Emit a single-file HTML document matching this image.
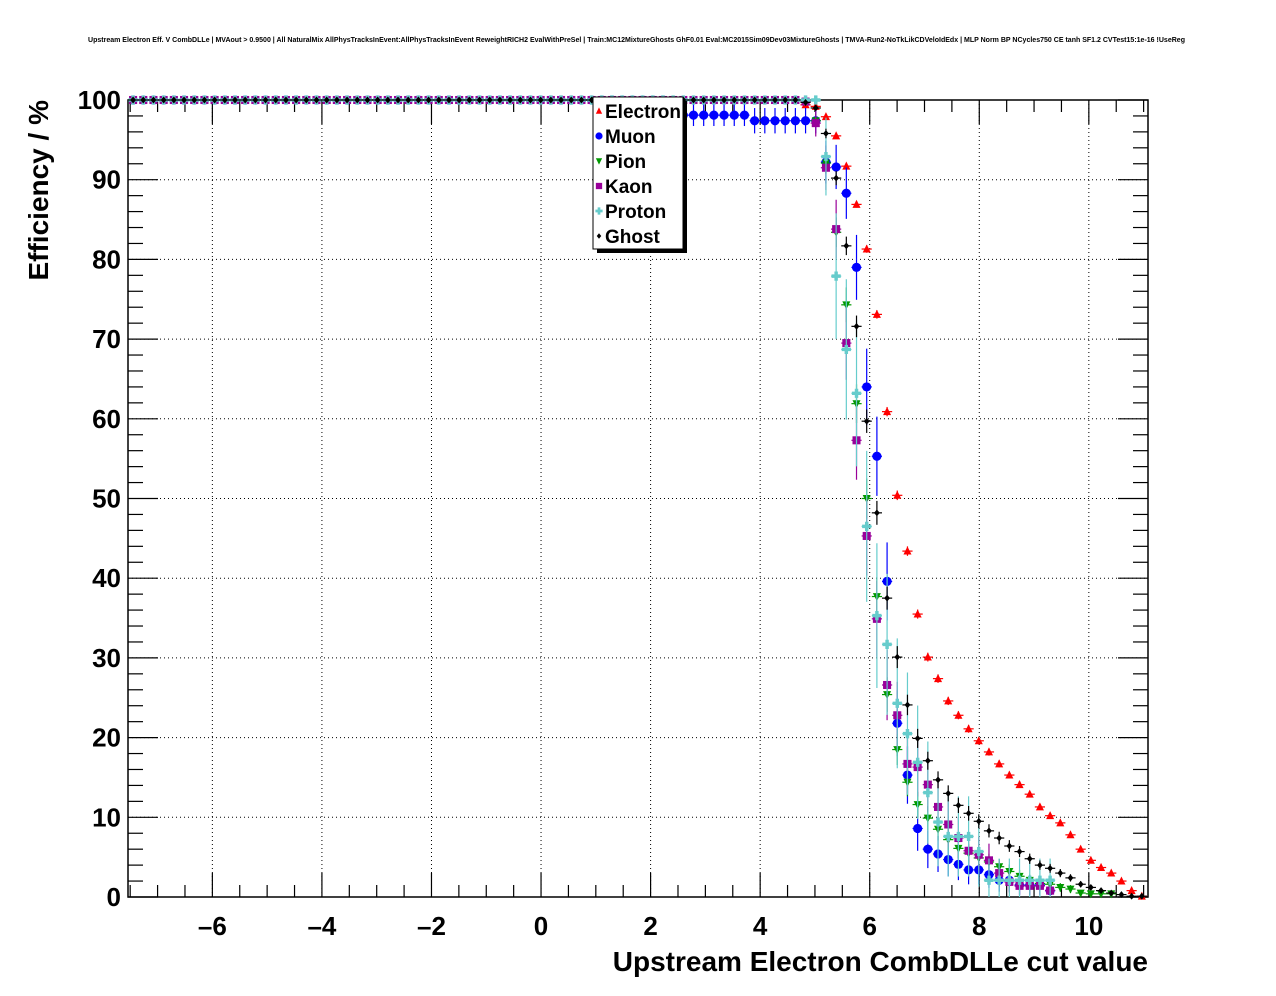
<!DOCTYPE html>
<html><head><meta charset="utf-8">
<style>
html,body{margin:0;padding:0;background:#fff;}
svg{display:block;font-family:"Liberation Sans",sans-serif;}
</style></head>
<body>
<svg id="chart" width="1276" height="996" viewBox="0 0 1276 996" xmlns="http://www.w3.org/2000/svg">
<rect x="0" y="0" width="1276" height="996" fill="#fff"/>
<text x="88" y="42" font-size="7" font-weight="bold" textLength="1097" lengthAdjust="spacingAndGlyphs">Upstream Electron Eff. V CombDLLe | MVAout &gt; 0.9500 | All NaturalMix AllPhysTracksInEvent:AllPhysTracksInEvent ReweightRICH2 EvalWithPreSel | Train:MC12MixtureGhosts GhF0.01 Eval:MC2015Sim09Dev03MixtureGhosts | TMVA-Run2-NoTkLikCDVeloIdEdx | MLP Norm BP NCycles750 CE tanh SF1.2 CVTest15:1e-16 !UseReg</text>
<g id="grid"></g>
<g id="axes"></g>
<g id="marks"></g>
<text x="1148" y="971" text-anchor="end" font-size="28" font-weight="bold">Upstream Electron CombDLLe cut value</text>
<text transform="translate(48,100) rotate(-90)" text-anchor="end" font-size="28" font-weight="bold">Efficiency / %</text>
<g id="legend"></g>
</svg>
<script>
// ---- data ----
const nBins = 100;
const binLo = -7.54;
const binW = 0.186;
const xTicks = [-6,-4,-2,0,2,4,6,8,10];
const yTicks = [0,10,20,30,40,50,60,70,80,90,100];
const seriesNames = ["Electron","Muon","Pion","Kaon","Proton","Ghost"];
// values for bins 66..99 (bins 0..65 are 100% unless overridden)
const electronTail = [99.4,99.2,97.9,95.5,91.7,86.9,81.3,73.1,60.9,50.4,43.4,35.5,30.1,27.4,24.6,22.8,21.1,19.6,18.2,16.7,15.3,14.1,12.9,11.3,10.2,9.3,7.8,6.0,4.6,3.7,3.0,2.0,0.8,0.1];
const muonTail = [97.4,97.4,92.2,91.6,88.3,79.0,64.0,55.3,39.6,21.8,15.3,8.6,6.0,5.4,4.7,4.1,3.4,3.4,2.8,2.1,2.1,1.5,1.5,1.5,0.8,null,null,null,null,null,null,null,null,null];
const muonPlateau = [98.1,98.1,98.1,98.1,98.1,98.1,98.1,98.1,97.4,97.4,97.4,97.4,97.4]; // bins 53..65
const pionTail = [99.8,97.4,92.1,83.4,74.3,61.9,50.0,37.7,25.4,18.5,14.4,11.6,9.9,8.5,7.2,6.1,5.5,4.9,4.4,3.8,3.2,2.6,2.1,1.7,1.6,1.2,1.0,0.5,0.4,0.4,0.4,null,null,null];
const kaonTail = [99.8,97.1,91.5,83.8,69.5,57.3,45.3,34.9,26.6,22.8,16.7,16.3,14.1,11.3,9.1,7.4,5.8,5.3,4.6,3.0,1.9,1.4,1.4,1.4,0.8,null,null,null,null,null,null,null,null,null];
const protonTail = [100,100,92.9,77.9,68.7,63.2,46.5,35.3,31.7,24.3,20.5,16.9,13.1,9.4,7.6,7.6,7.6,5.7,2.1,2.1,2.1,2.1,2.1,2.1,2.1,null,null,null,null,null,null,null,null,null];
const ghostTail = [99.7,99.0,95.8,90.2,81.7,71.6,59.7,48.2,37.5,30.1,24.1,19.9,17.1,14.7,13.0,11.5,10.5,9.5,8.3,7.4,6.4,5.7,4.8,4.0,3.6,3.0,2.4,1.6,1.2,0.8,0.5,0.3,0.1,0.1];
const errScale = [0.012,0.1,0.05,0.1,0.19,0.03];
const colors = ["#ff0000","#0000ff","#009900","#990099","#66cccc","#000000"];

// ---- axis functions ----
const X0=128,X1=1148,Y0=897,Y1=100;
const xMin=-7.54, xMax=11.08;
function sx(v){return X0+(v-xMin)/(xMax-xMin)*(X1-X0);}
function sy(v){return Y0-(v/100)*(Y0-Y1);}
const NS="http://www.w3.org/2000/svg";
function mk(tag,attrs,parent){const e=document.createElementNS(NS,tag);for(const k in attrs)e.setAttribute(k,attrs[k]);parent.appendChild(e);return e;}

function buildSeries(tail,plateau,plateauStart){
  const a=[];for(let i=0;i<nBins;i++)a.push(100);
  if(plateau)for(let j=0;j<plateau.length;j++)a[plateauStart+j]=plateau[j];
  for(let j=0;j<tail.length;j++)a[66+j]=tail[j];
  return a;
}
const data=[buildSeries(electronTail),buildSeries(muonTail,muonPlateau,53),buildSeries(pionTail),buildSeries(kaonTail),buildSeries(protonTail),buildSeries(ghostTail)];

const grid=document.getElementById('grid'),axes=document.getElementById('axes'),marks=document.getElementById('marks'),legend=document.getElementById('legend');
xTicks.forEach(t=>{const l=mk('line',{x1:sx(t),x2:sx(t),y1:Y1,y2:Y0,stroke:'#000','stroke-width':1,'stroke-dasharray':'1,3'},grid);

});
yTicks.forEach(t=>{const l=mk('line',{x1:X0,x2:X1,y1:sy(t),y2:sy(t),stroke:'#000','stroke-width':1,'stroke-dasharray':'1,3'},grid);

});
const fr=mk('rect',{x:X0,y:Y1,width:X1-X0,height:Y0-Y1,fill:'none',stroke:'#000','stroke-width':1.5},axes);


for(let v=-7.5;v<=11.01;v+=0.5){const major=Math.abs(v-Math.round(v/2)*2)<1e-6;const len=major?24:12;const x=sx(v);
mk('line',{x1:x,x2:x,y1:Y0,y2:Y0-len,stroke:'#000','stroke-width':1.2},axes);
mk('line',{x1:x,x2:x,y1:Y1,y2:Y1+len,stroke:'#000','stroke-width':1.2},axes);}
xTicks.forEach(t=>{const tx=mk('text',{x:sx(t),y:935,'text-anchor':'middle','font-size':26,'font-weight':'bold'},axes);tx.textContent=(t<0?'\u2013'+(-t):''+t);

});
for(let v=0;v<=100;v+=2){const major=v%10===0;const len=major?30:15;const y=sy(v);
mk('line',{x1:X0,x2:X0+len,y1:y,y2:y,stroke:'#000','stroke-width':1.2},axes);
mk('line',{x1:X1,x2:X1-len,y1:y,y2:y,stroke:'#000','stroke-width':1.2},axes);}
yTicks.forEach(t=>{const tx=mk('text',{x:121,y:sy(t)+9,'text-anchor':'end','font-size':26,'font-weight':'bold'},axes);tx.textContent=''+t;

});

function marker(kind,x,y,c,parent,s){
  s=s||1.15;
  if(kind===0)return mk('polygon',{points:`${x},${y-4*s} ${x-3.5*s},${y+3*s} ${x+3.5*s},${y+3*s}`,fill:c},parent);
  if(kind===1)return mk('circle',{cx:x,cy:y,r:4*s,fill:c},parent);
  if(kind===2)return mk('polygon',{points:`${x},${y+4*s} ${x-3.5*s},${y-3*s} ${x+3.5*s},${y-3*s}`,fill:c},parent);
  if(kind===3)return mk('rect',{x:x-3.5*s,y:y-3.5*s,width:7*s,height:7*s,fill:c},parent);
  if(kind===4)return mk('path',{d:`M${x-4*s},${y-1.5*s}h${2.5*s}v${-2.5*s}h${3*s}v${2.5*s}h${2.5*s}v${3*s}h${-2.5*s}v${2.5*s}h${-3*s}v${-2.5*s}h${-2.5*s}z`,fill:c},parent);
  return mk('polygon',{points:`${x},${y-3*s} ${x-2.5*s},${y} ${x},${y+3*s} ${x+2.5*s},${y}`,fill:c},parent);
}
data.forEach((arr,si)=>{
  const g=mk('g',{},marks);
  
  
  arr.forEach((v,i)=>{
    if(v===null)return;
    const cx=binLo+binW*(i+0.5);
    const x=sx(cx),y=sy(v);
    const hw=(sx(binW)-sx(0))/2;
    const err=errScale[si]*100*Math.sqrt(Math.max(v/100*(1-v/100),0));
    mk('line',{x1:x-hw,x2:x+hw,y1:y,y2:y,stroke:colors[si],'stroke-width':1.2},g);
    if(err>0.3){mk('line',{x1:x,x2:x,y1:sy(Math.min(100,v+err)),y2:sy(Math.max(0,v-err)),stroke:colors[si],'stroke-width':1.2},g);}
    const m=marker(si,x,y,colors[si],g);
    
    
  });
});
mk('rect',{x:597,y:101,width:90,height:152,fill:'#000'},legend);
mk('rect',{x:593,y:97,width:90,height:152,fill:'#fff',stroke:'#000','stroke-width':1},legend);
seriesNames.forEach((n,i)=>{
  const y=111+i*25;
  marker(i,599,y,colors[i],legend,0.9);
  const t=mk('text',{x:605,y:y+7,'font-size':19,'font-weight':'bold'},legend);t.textContent=n;
  
  
});
</script>
</body></html>
